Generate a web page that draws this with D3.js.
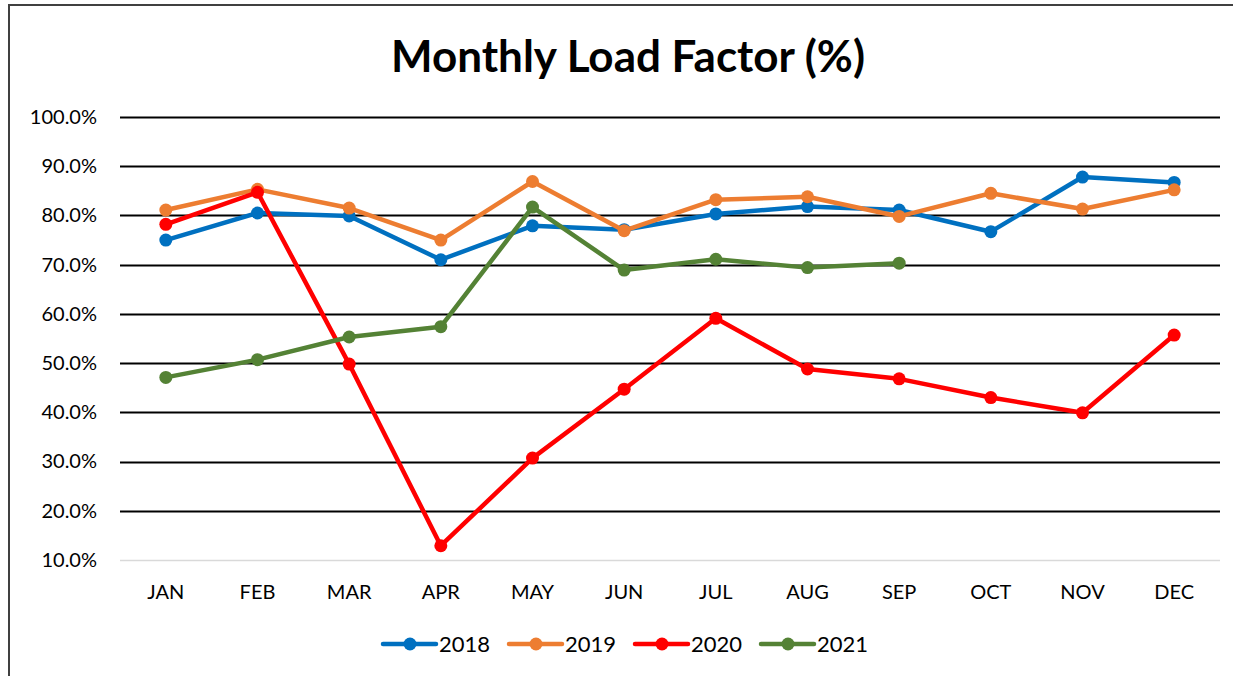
<!DOCTYPE html>
<html>
<head>
<meta charset="utf-8">
<script src="https://cdn.jsdelivr.net/npm/d3@7"></script>
<style>
  body { margin: 0; background: #fff; }
  text { font-family: Lato, "Open Sans", sans-serif; fill: #000; }
</style>
</head>
<body>
<script>
const width = 1233;
const height = 676;
const margin = {left: 120, top: 117};
const plotW = 1100;
const plotH = 443;

const months = ['JAN', 'FEB', 'MAR', 'APR', 'MAY', 'JUN', 'JUL', 'AUG', 'SEP', 'OCT', 'NOV', 'DEC'];
const yTicks = [10, 20, 30, 40, 50, 60, 70, 80, 90, 100];
const years = ['2018', '2019', '2020', '2021'];
const colors = ['#0070c0', '#ed7d31', '#ff0000', '#548235'];

const load2018 = [75.0, 80.5, 79.9, 71.0, 77.9, 77.1, 80.3, 81.8, 81.1, 76.7, 87.8, 86.7];
const load2019 = [81.1, 85.3, 81.5, 75.0, 86.9, 76.9, 83.2, 83.8, 79.8, 84.5, 81.3, 85.2];
const load2020 = [78.2, 84.7, 49.8, 12.9, 30.7, 44.7, 59.1, 48.8, 46.8, 43.0, 39.9, 55.7];
const load2021 = [47.1, 50.7, 55.3, 57.4, 81.7, 68.9, 71.1, 69.4, 70.3];

const series = [load2018, load2019, load2020, load2021];

const svg = d3.select('body').append('svg')
    .attr('width', width)
    .attr('height', height);

// outer chart border (right and bottom edges fall outside the picture)
svg.append('rect')
    .attr('x', 9)
    .attr('y', 5)
    .attr('width', width + 20)
    .attr('height', height + 20)
    .attr('fill', 'none')
    .attr('stroke', '#404040')
    .attr('stroke-width', 2);

svg.append('text')
    .text('Monthly Load Factor (%)')
    .attr('x', 628)
    .attr('y', 72)
    .attr('text-anchor', 'middle')
    .style('font-size', '44px')
    .style('font-weight', 'bold');

const g = svg.append('g')
    .attr('transform', `translate(${margin.left}, ${margin.top})`);

const xScale = d3.scaleBand()
    .domain(months)
    .range([0, plotW]);

const yScale = d3.scaleLinear()
    .domain([10, 100])
    .range([plotH, 0]);

// gridlines
g.append('g')
    .selectAll('line')
    .data(yTicks.slice(1))
    .join('line')
    .attr('x1', 0)
    .attr('x2', plotW)
    .attr('y1', d => Math.round(yScale(d)) + 0.5)
    .attr('y2', d => Math.round(yScale(d)) + 0.5)
    .attr('stroke', '#000')
    .attr('stroke-width', 2);

g.append('line')
    .attr('x1', 0)
    .attr('x2', plotW)
    .attr('y1', yScale(10) + 0.5)
    .attr('y2', yScale(10) + 0.5)
    .attr('stroke', '#d9d9d9')
    .attr('stroke-width', 1.5);

const yAxis = d3.axisLeft(yScale)
    .tickValues(yTicks)
    .tickSize(0)
    .tickPadding(23)
    .tickFormat(d => d.toFixed(1) + '%');

g.append('g')
    .call(yAxis)
    .call(a => a.select('.domain').remove())
    .selectAll('text')
    .style('font-family', 'Lato, sans-serif')
    .style('font-size', '20px');

const xAxis = d3.axisBottom(xScale)
    .tickSize(0)
    .tickPadding(25);

g.append('g')
    .attr('transform', `translate(0, ${plotH})`)
    .call(xAxis)
    .call(a => a.select('.domain').remove())
    .selectAll('text')
    .style('font-family', 'Lato, sans-serif')
    .style('font-size', '20px');

const line = d3.line()
    .x((d, i) => xScale(months[i]) + xScale.bandwidth() / 2)
    .y(d => yScale(d));

series.forEach((values, k) => {
    const s = g.append('g');
    s.append('path')
        .datum(values)
        .attr('d', line)
        .attr('fill', 'none')
        .attr('stroke', colors[k])
        .attr('stroke-width', 4.5)
        .attr('stroke-linejoin', 'round');
    s.selectAll('circle')
        .data(values)
        .join('circle')
        .attr('cx', (d, i) => xScale(months[i]) + xScale.bandwidth() / 2)
        .attr('cy', d => yScale(d))
        .attr('r', 6.5)
        .attr('fill', colors[k]);
});

// legend
const legendX = [383, 509, 635, 761];
const legend = svg.append('g')
    .attr('transform', 'translate(0, 644)');

years.forEach((yr, k) => {
    const item = legend.append('g')
        .attr('transform', `translate(${legendX[k]}, 0)`);
    item.append('line')
        .attr('x1', 0)
        .attr('x2', 53)
        .attr('stroke', colors[k])
        .attr('stroke-width', 4.5)
        .attr('stroke-linecap', 'round');
    item.append('circle')
        .attr('cx', 27)
        .attr('r', 6.5)
        .attr('fill', colors[k]);
    item.append('text')
        .text(yr)
        .attr('x', 56)
        .attr('y', 8)
        .style('font-size', '22px');
});
</script>
</body>
</html>
